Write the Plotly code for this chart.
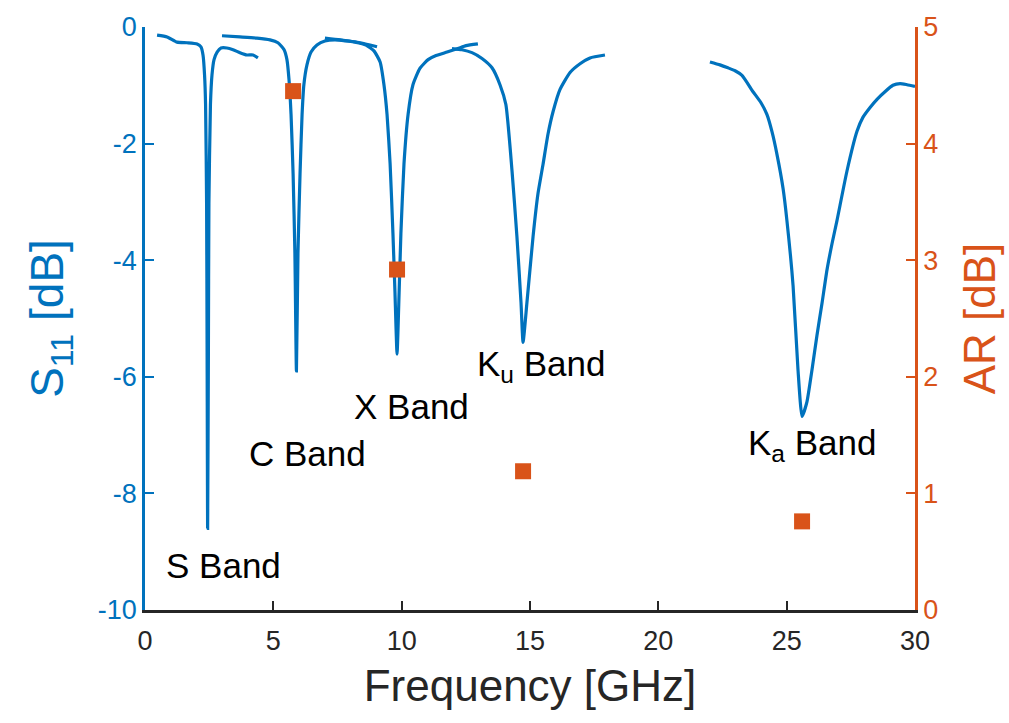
import plotly.graph_objects as go

# ---- data ----
# S11 curve, measured in separate frequency sweeps (GHz, dB)
seg_s_f = [0.47, 0.86, 1.25, 1.64, 2.03, 2.18, 2.26, 2.32, 2.36, 2.40, 2.42, 2.44, 2.47, 2.49, 2.55, 2.61, 2.69, 2.81, 2.96, 3.19, 3.43, 3.70, 3.97, 4.21, 4.40]
seg_s_v = [-0.14, -0.17, -0.26, -0.27, -0.29, -0.34, -0.48, -0.82, -1.33, -3.03, -5.58, -8.60, -5.58, -3.03, -1.33, -0.82, -0.56, -0.43, -0.36, -0.36, -0.39, -0.44, -0.48, -0.48, -0.53]

seg_c_f = [3.00, 3.70, 4.36, 4.87, 5.18, 5.42, 5.53, 5.61, 5.69, 5.77, 5.84, 5.90, 5.96, 6.04, 6.12, 6.19, 6.31, 6.47, 6.70, 7.01, 7.40, 7.91, 8.38, 8.77, 9.04]
seg_c_v = [-0.15, -0.17, -0.19, -0.22, -0.27, -0.39, -0.56, -0.90, -1.50, -2.52, -3.88, -5.90, -3.88, -2.52, -1.50, -0.99, -0.65, -0.43, -0.31, -0.24, -0.22, -0.24, -0.27, -0.31, -0.34]

seg_x_f = [7.01, 7.60, 8.18, 8.61, 8.92, 9.16, 9.31, 9.43, 9.55, 9.66, 9.74, 9.82, 9.90, 9.97, 10.09, 10.25, 10.44, 10.71, 11.03, 11.34, 11.77, 12.19, 12.51, 12.97]
seg_x_v = [-0.19, -0.22, -0.26, -0.31, -0.41, -0.60, -0.99, -1.50, -2.35, -3.54, -4.56, -5.61, -4.56, -3.54, -2.35, -1.50, -0.99, -0.71, -0.56, -0.49, -0.43, -0.37, -0.32, -0.29]

seg_ku_f = [11.96, 12.35, 12.74, 13.13, 13.52, 13.83, 14.06, 14.30, 14.49, 14.65, 14.73, 14.88, 15.12, 15.31, 15.51, 15.70, 15.90, 16.17, 16.56, 16.95, 17.34, 17.92]
seg_ku_v = [-0.37, -0.39, -0.44, -0.54, -0.70, -0.99, -1.33, -2.47, -3.59, -4.73, -5.41, -4.73, -3.59, -2.86, -2.35, -1.84, -1.45, -1.07, -0.78, -0.63, -0.53, -0.48]

seg_ka_f = [22.01, 22.40, 22.71, 22.99, 23.26, 23.69, 24.00, 24.23, 24.43, 24.62, 24.86, 25.01, 25.25, 25.44, 25.60, 25.79, 25.99, 26.18, 26.38, 26.57, 26.77, 26.96, 27.35, 27.74, 27.97, 28.25, 28.52, 28.83, 29.14, 29.42, 29.69, 30.00]
seg_ka_v = [-0.60, -0.65, -0.70, -0.75, -0.83, -1.11, -1.30, -1.50, -1.80, -2.18, -2.77, -3.32, -4.44, -5.87, -6.68, -6.43, -5.87, -5.29, -4.73, -4.17, -3.71, -3.32, -2.47, -1.79, -1.55, -1.38, -1.24, -1.11, -1.00, -0.97, -0.99, -1.02]

# Axial ratio at the resonances (GHz, dB)
ar_f = [5.77, 9.82, 14.73, 25.60]
ar_v = [4.45, 2.92, 1.19, 0.76]

# Band labels
band_text = ["S Band", "C Band", "X Band", "K<sub>u</sub> Band", "K<sub>a</sub> Band"]
band_f = [3.04, 6.35, 10.40, 15.43, 25.99]
band_v = [-9.23, -7.31, -6.51, -5.82, -7.17]

x_ticks = [0, 5, 10, 15, 20, 25, 30]
y_ticks = [0, -2, -4, -6, -8, -10]
y_ticktext = ["0", "-2", "-4", "-6", "-8", "-10"]
y2_ticks = [0, 1, 2, 3, 4, 5]

BLUE = "#0072BD"
ORANGE = "#D95319"
DARK = "#262626"
FONT = "Liberation Sans, Arial, sans-serif"

fig = go.Figure()
segments = [(seg_s_f, seg_s_v), (seg_c_f, seg_c_v), (seg_x_f, seg_x_v),
            (seg_ku_f, seg_ku_v), (seg_ka_f, seg_ka_v)]
for f, v in segments:
    fig.add_trace(go.Scatter(x=f, y=v, mode="lines",
                             line=dict(color=BLUE, width=3.2, shape="spline", smoothing=0.5),
                             showlegend=False, yaxis="y"))

fig.add_trace(go.Scatter(x=ar_f, y=ar_v, mode="markers",
                         marker=dict(symbol="square", size=16, color=ORANGE),
                         showlegend=False, yaxis="y2"))

for t, f, v in zip(band_text, band_f, band_v):
    fig.add_annotation(x=f, y=v, xref="x", yref="y", text=t, showarrow=False,
                       font=dict(family=FONT, size=35, color="#000000"))

fig.update_layout(
    width=1009, height=723,
    margin=dict(l=145, r=94, t=22, b=113),
    paper_bgcolor="white", plot_bgcolor="white",
    font=dict(family=FONT),
    xaxis=dict(range=[0, 30], tickvals=x_ticks, ticks="inside", ticklen=9, tickwidth=2,
               tickcolor=DARK, showline=True, linecolor=DARK, linewidth=2.5,
               showgrid=False, zeroline=False, ticklabelstandoff=5,
               tickfont=dict(size=27, color=DARK),
               title=dict(text="Frequency [GHz]", font=dict(size=44, color=DARK), standoff=16)),
    yaxis=dict(range=[-10, 0], tickvals=y_ticks, ticktext=y_ticktext, ticks="inside",
               ticklen=9, tickwidth=2,
               tickcolor=BLUE, showline=True, linecolor=BLUE, linewidth=2.5,
               showgrid=False, zeroline=False,
               tickfont=dict(size=27, color=BLUE),
               title=dict(text="S<sub>11</sub> [dB]",
                          font=dict(size=46, color=BLUE), standoff=20)),
    yaxis2=dict(range=[0, 5], tickvals=y2_ticks, ticks="inside", ticklen=9, tickwidth=2,
                tickcolor=ORANGE, showline=True, linecolor=ORANGE, linewidth=2.5,
                overlaying="y", side="right", showgrid=False, zeroline=False,
                tickfont=dict(size=27, color=ORANGE),
                title=dict(text="AR [dB]", font=dict(size=44, color=ORANGE), standoff=28)),
)

fig.write_html("out.html")
